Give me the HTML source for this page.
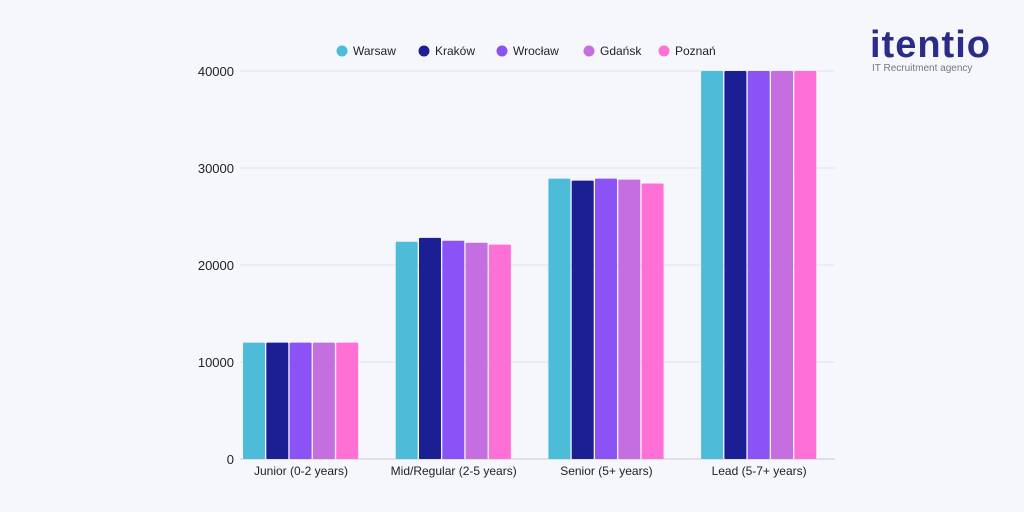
<!DOCTYPE html>
<html><head><meta charset="utf-8"><style>
body{margin:0;width:1024px;height:512px;background:#f6f7fc;font-family:"Liberation Sans",sans-serif;overflow:hidden;position:relative}
svg{position:absolute;left:0;top:0}
</style></head><body>
<svg width="1024" height="512">
<g id="grid"></g><g id="bars"></g><g id="labels"></g><g id="legend"></g>
<text x="870" y="57" font-size="38" fill="#2b2c8a" style="letter-spacing:1px;font-weight:600">itentio</text>
<text x="872" y="71" font-size="10" fill="#777">IT Recruitment agency</text>
</svg>
<script>
const categories=["Junior (0-2 years)","Mid/Regular (2-5 years)","Senior (5+ years)","Lead (5-7+ years)"];
const seriesNames=["Warsaw","Kraków","Wrocław","Gdańsk","Poznań"];
const warsaw=[12000,22400,28900,40000];
const krakow=[12000,22800,28700,40000];
const wroclaw=[12000,22500,28900,40000];
const gdansk=[12000,22300,28800,40000];
const poznan=[12000,22100,28400,40000];
const yTicks=[0,10000,20000,30000,40000];
const series=[warsaw,krakow,wroclaw,gdansk,poznan];
const colors=["#4dbcd9","#1c1f94","#8b52f5","#c46ee0","#ff70d6"];
const NS="http://www.w3.org/2000/svg";
const y0=459,yTop=71,yMax=40000;
const y=v=>y0-(v/yMax)*(y0-yTop);
const gx=i=>301+i*152.7;
function mk(t,a,p){const e=document.createElementNS(NS,t);for(const k in a)e.setAttribute(k,a[k]);document.getElementById(p).appendChild(e);return e;}
yTicks.forEach(t=>{
 const l=mk('line',{x1:240,x2:835,y1:y(t),y2:y(t),stroke:t===0?'#c8c9d0':'#e2e3ea','stroke-width':1},'grid');
 
 
 const tx=mk('text',{x:234,y:y(t)+5,'text-anchor':'end','font-size':13,fill:'#222'},'labels');
 tx.textContent=t;
 
 
});
categories.forEach((c,i)=>{
 series.forEach((s,j)=>{
  const x=gx(i)-58+j*23.3;
  const r=mk('rect',{x:x,y:y(s[i]),width:22,height:y0-y(s[i]),fill:colors[j],rx:1},'bars');
  
  
 });
 const t=mk('text',{x:gx(i),y:475,'text-anchor':'middle','font-size':12,fill:'#222'},'labels');
 t.textContent=c;
 
 
});
const lx=[342,424,502,589,664];
seriesNames.forEach((n,j)=>{
 const c=mk('circle',{cx:lx[j],cy:51,r:5.5,fill:colors[j]},'legend');
 
 
 const t=mk('text',{x:lx[j]+11,y:55,'font-size':12,fill:'#222'},'legend');
 t.textContent=n;
 
 
});
</script>
</body></html>
